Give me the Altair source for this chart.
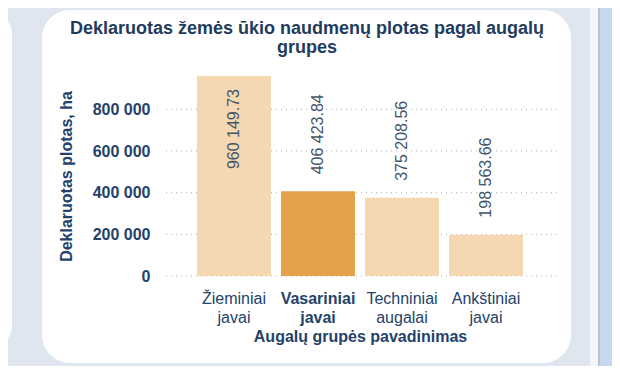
import altair as alt
import pandas as pd

categories = ["Žieminiai javai", "Vasariniai javai", "Techniniai augalai", "Ankštiniai javai"]
values = [960149.73, 406423.84, 375208.56, 198563.66]
highlight = "Vasariniai javai"
y_ticks = [0, 200000, 400000, 600000, 800000]

df = pd.DataFrame({"grupe": categories, "plotas": values})
ticks_df = pd.DataFrame({"plotas": y_ticks})
one = pd.DataFrame({"k": [0]})

FONT = "Liberation Sans"
NAVY = "#24426a"

def deco(x, x2, y, y2, color, r=0):
    return alt.Chart(one).mark_rect(color=color, cornerRadius=r).encode(
        x=alt.value(x), x2=alt.value(x2), y=alt.value(y), y2=alt.value(y2)
    )

card = deco(-121, 408, -66, 287, "#ffffff", 28)
left_card = deco(-200, -151, -66, 274, "#ffffff", 25)
strip1 = deco(427, 435, -68, 300, "#f3f5f8")
strip2 = deco(435, 437, -68, 300, "#b9c3cf")
strip3 = deco(437, 470, -68, 300, "#c6d8ee")

y_scale = alt.Scale(domain=[0, 960150], nice=False)
y_axis = alt.Axis(
    title="Deklaruotas plotas, ha", values=y_ticks, format=",d", labelFontWeight="bold",
    labelPadding=13, titlePadding=18, ticks=False, domain=False, grid=False, zindex=1,
)

grid = alt.Chart(ticks_df).mark_rule(strokeDash=[1, 4], color="#b0b0b0", strokeWidth=1).encode(
    y=alt.Y("plotas:Q", scale=y_scale, axis=y_axis)
)

x_enc = alt.X(
    "grupe:N", sort=categories,
    scale=alt.Scale(paddingInner=0.12, paddingOuter=0.405),
    axis=alt.Axis(
        title="Augalų grupės pavadinimas", labelAngle=0, labelExpr="split(datum.label, ' ')",
        labelFontWeight=alt.condition(f"datum.value == '{highlight}'", alt.value("bold"), alt.value("normal")),
        labelLineHeight=19, labelPadding=14, titlePadding=3, ticks=False, domain=False, grid=False,
        zindex=1,
    ),
)

bars = alt.Chart(df).mark_bar().encode(
    x=x_enc, y=alt.Y("plotas:Q", scale=y_scale, axis=y_axis),
    color=alt.condition(f"datum.grupe == '{highlight}'", alt.value("#e5a14a"), alt.value("#f5d7b2")),
)

labels_out = alt.Chart(df).transform_filter("datum.plotas <= 800000").mark_text(
    angle=270, align="left", baseline="middle", dx=17, fontSize=16, color="#44556b", font=FONT
).encode(x=alt.X("grupe:N", sort=categories), y="plotas:Q", text=alt.Text("plotas:Q", format=",.2f"))

labels_in = alt.Chart(df).transform_filter("datum.plotas > 800000").mark_text(
    angle=270, align="right", baseline="middle", dx=-13, fontSize=16, color="#44556b", font=FONT
).encode(x=alt.X("grupe:N", sort=categories), y="plotas:Q", text=alt.Text("plotas:Q", format=",.2f"))

chart = alt.layer(card, left_card, strip1, strip2, strip3, grid, bars, labels_out, labels_in).properties(
    width=394, height=200,
    padding={"left": 155, "top": 68, "right": 55, "bottom": 90},
    autosize=alt.AutoSizeParams(type="none"),
    title=alt.TitleParams(
        ["Deklaruotas žemės ūkio naudmenų plotas pagal augalų", "grupes"],
        anchor="middle", frame="group", dx=-53, dy=49, offset=0, baseline="top",
        fontSize=18, fontWeight="bold", color="#1f3b5e", font=FONT, lineHeight=19,
    ),
).configure(
    background="#dfe6ef",
    locale={"number": {"decimal": ".", "thousands": " ", "grouping": [3], "currency": ["", ""]}},
).configure_view(stroke=None).configure_axis(
    labelFont=FONT, titleFont=FONT, labelFontSize=16, titleFontSize=16, labelColor=NAVY,
    titleColor=NAVY, titleFontWeight="bold",
)

chart.save("out.html", embed_options={"renderer": "svg", "actions": False})
